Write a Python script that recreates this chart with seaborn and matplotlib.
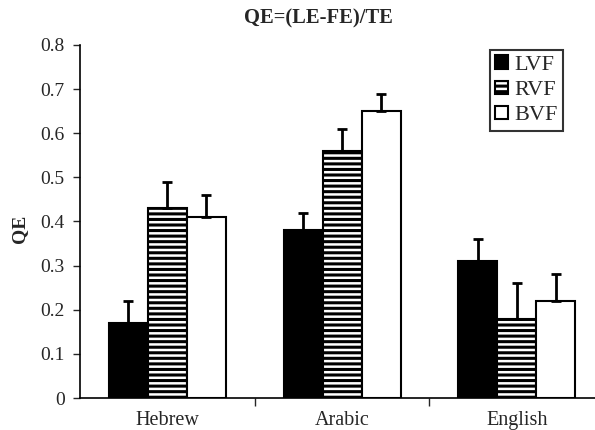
import matplotlib
matplotlib.use("Agg")
import matplotlib.pyplot as plt
import seaborn as sns
import pandas as pd
import numpy as np

languages = ["Hebrew", "Arabic", "English"]
fields = ["LVF", "RVF", "BVF"]
means = {
    "LVF": [0.17, 0.38, 0.31],
    "RVF": [0.43, 0.56, 0.18],
    "BVF": [0.41, 0.65, 0.22],
}
errors = {
    "LVF": [0.05, 0.04, 0.05],
    "RVF": [0.06, 0.05, 0.08],
    "BVF": [0.05, 0.04, 0.06],
}
yticks = [0, 0.1, 0.2, 0.3, 0.4, 0.5, 0.6, 0.7, 0.8]
ytick_labels = ["0", "0.1", "0.2", "0.3", "0.4", "0.5", "0.6", "0.7", "0.8"]

rows = []
for f in fields:
    for lang, m in zip(languages, means[f]):
        rows.append({"Language": lang, "Field": f, "QE": m})
df = pd.DataFrame(rows)

sns.set_style("white")
plt.rcParams["font.family"] = ["Liberation Serif", "DejaVu Serif"]
plt.rcParams["hatch.linewidth"] = 2.2
plt.rcParams["hatch.color"] = "black"

fig = plt.figure(figsize=(5.95, 4.3), dpi=100)
ax = fig.add_axes([0.1345, 0.0744, 0.8807, 0.821])

palette = {"LVF": "black", "RVF": "white", "BVF": "white"}
sns.barplot(data=df, x="Language", y="QE", hue="Field", order=languages,
            hue_order=fields, palette=palette, width=0.67, errorbar=None,
            edgecolor="black", linewidth=1.5, saturation=1, ax=ax)

hatches = {"LVF": "", "RVF": "---", "BVF": ""}
for cont, f in zip(ax.containers, fields):
    for bar, e in zip(cont, errors[f]):
        bar.set_hatch(hatches[f])
        x = bar.get_x() + bar.get_width() / 2
        h = bar.get_height()
        ax.errorbar([x], [h], yerr=[[0], [e]], fmt="none", ecolor="black",
                    elinewidth=2, capsize=3.5, capthick=2, zorder=1)

ax.set_xlim(-0.5, 2.5)
ax.set_ylim(0, 0.8)
ax.set_yticks(yticks)
ax.set_yticklabels(ytick_labels, fontsize=14)
ax.tick_params(axis="y", direction="out", length=5, width=1, left=True, pad=6)
ax.set_xticks([0, 1, 2])
ax.set_xticklabels(languages, fontsize=14.5)
ax.tick_params(axis="x", which="major", length=0, pad=9)
ax.set_xticks([0.5, 1.5], minor=True)
ax.tick_params(axis="x", which="minor", direction="out", length=6, width=1, bottom=True)
ax.set_xlabel("")
ax.set_ylabel("QE", fontsize=14, fontweight="bold")
ax.yaxis.set_label_coords(-0.099, 0.48)
for s in ["top", "right"]:
    ax.spines[s].set_visible(False)
for s in ["left", "bottom"]:
    ax.spines[s].set_color("black")
    ax.spines[s].set_linewidth(1.2)

leg = ax.legend(title=None, loc="upper right", bbox_to_anchor=(0.922, 0.986),
                borderaxespad=0, fontsize=16, frameon=True, fancybox=False,
                handlelength=0.55, handleheight=0.55, handletextpad=0.3,
                borderpad=0.25, labelspacing=0.25)
leg.get_frame().set_edgecolor("black")
leg.get_frame().set_linewidth(1.5)
for hnd, f in zip(leg.legend_handles, fields):
    hnd.set_hatch(hatches[f])
    hnd.set_edgecolor("black")
    hnd.set_linewidth(1.5)

fig.text(0.536, 0.958, "QE=(LE-FE)/TE", ha="center", va="center",
         fontsize=14.8, fontweight="bold")

fig.savefig("out.png", dpi=100)
